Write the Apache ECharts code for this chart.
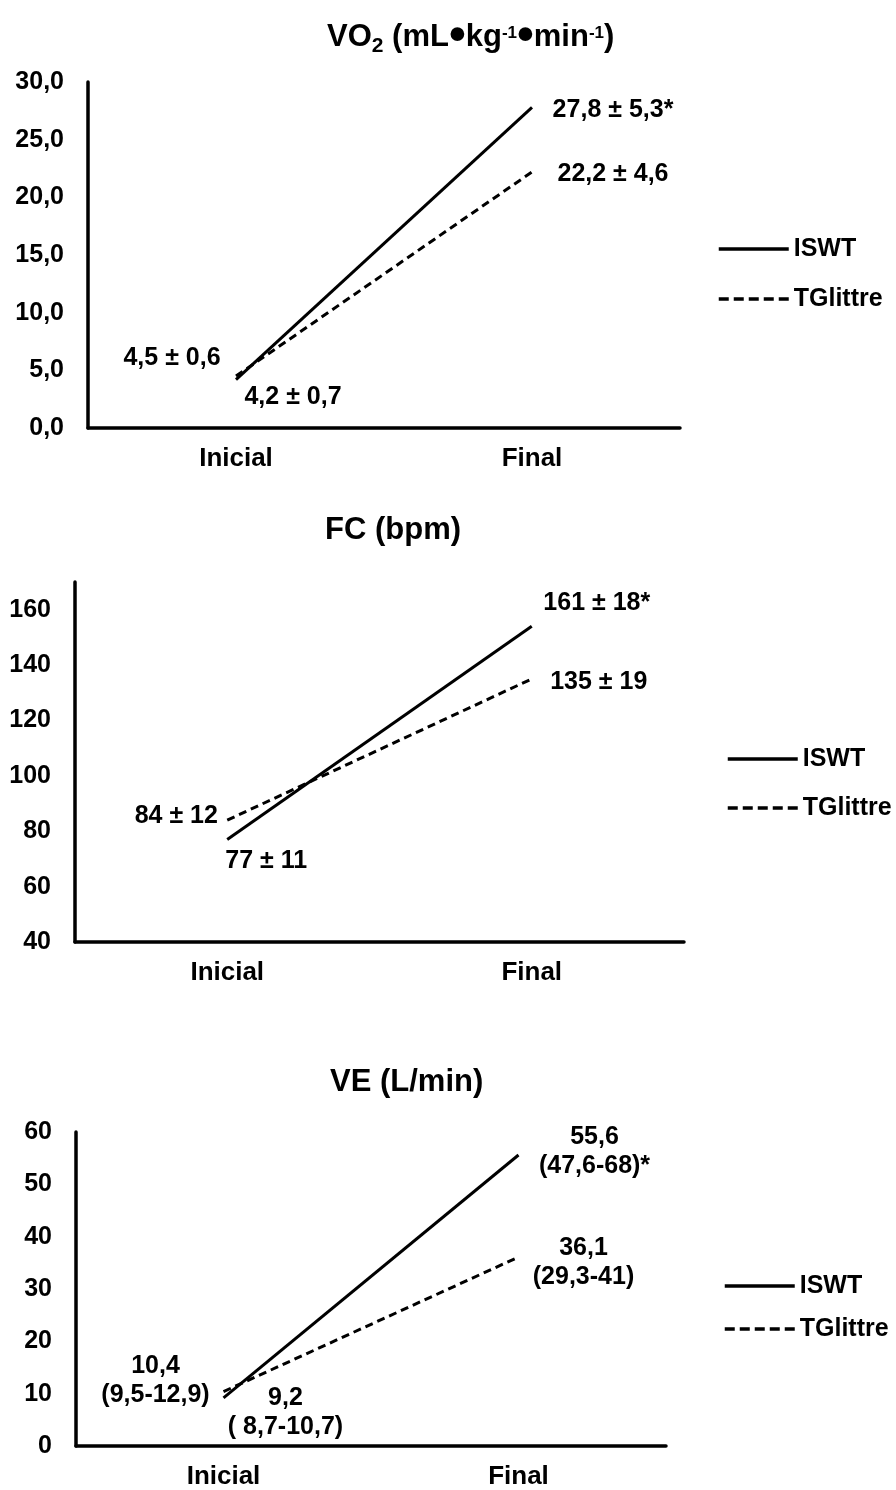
<!DOCTYPE html>
<html>
<head>
<meta charset="utf-8">
<script src="https://cdn.jsdelivr.net/npm/echarts@6/dist/echarts.min.js"></script>
<style>
  html, body { margin: 0; padding: 0; background: #fff; }
  #chart { width: 896px; height: 1490px; }
</style>
</head>
<body>
<div id="chart"></div>
<script>
// categories
var categories = ['Inicial', 'Final'];

// VO2 (mL.kg-1.min-1)
var vo2Iswt = [4.2, 27.8];
var vo2Tglittre = [4.5, 22.2];
var vo2IswtText = ['4,2 ± 0,7', '27,8 ± 5,3*'];
var vo2TglittreText = ['4,5 ± 0,6', '22,2 ± 4,6'];

// FC (bpm)
var fcIswt = [77, 154];
var fcTglittre = [84, 135];
var fcIswtText = ['77 ± 11', '161 ± 18*'];
var fcTglittreText = ['84 ± 12', '135 ± 19'];

// VE (L/min)
var veIswt = [9.2, 55.6];
var veTglittre = [10.4, 36.1];
var veIswtText = ['9,2\n( 8,7-10,7)', '55,6\n(47,6-68)*'];
var veTglittreText = ['10,4\n(9,5-12,9)', '36,1\n(29,3-41)'];

// y axes: [min, max, interval]
var vo2Axis = [0, 30, 5];
var fcAxis = [40, 170, 20];
var veAxis = [0, 60, 10];

var FONT = "'Liberation Sans', Arial, sans-serif";
var chart = echarts.init(document.getElementById('chart'));

function lineSeries(name, values, dashed, idx) {
	return {
		name: name,
		type: 'line',
		xAxisIndex: idx,
		yAxisIndex: idx,
		data: values,
		symbol: 'none',
		silent: true,
		lineStyle: { color: '#000', width: 3, type: dashed ? [8, 5] : 'solid' },
		itemStyle: { color: 'rgba(0,0,0,0)', borderWidth: 0 }
	};
}

function labelSeries(values, texts, offsets, idx) {
	var items = [];
	values.forEach(function (v, i) {
		items.push({ value: v, label: { formatter: texts[i], offset: offsets[i] } });
	});
	return {
		type: 'scatter',
		xAxisIndex: idx,
		yAxisIndex: idx,
		symbol: 'circle',
		symbolSize: 1,
		silent: true,
		itemStyle: { color: 'rgba(0,0,0,0)', opacity: 1 },
		label: {
			show: true,
			position: 'inside',
			align: 'center',
			color: '#000',
			textBorderWidth: 0,
			fontFamily: FONT,
			fontWeight: 'bold',
			fontSize: 25,
			lineHeight: 29
		},
		data: items
	};
}

function xAxis(idx) {
	return {
		type: 'category',
		gridIndex: idx,
		data: categories,
		axisTick: { show: false },
		axisLine: { lineStyle: { color: '#000', width: 3.5 } },
		axisLabel: { color: '#000', fontFamily: FONT, fontWeight: 'bold', fontSize: 26, margin: 18 }
	};
}

function yAxis(idx, ax, fmt) {
	return {
		type: 'value',
		gridIndex: idx,
		min: ax[0],
		max: ax[1],
		interval: ax[2],
		splitLine: { show: false },
		axisTick: { show: false },
		axisLine: { show: true, lineStyle: { color: '#000', width: 3.5 } },
		axisLabel: {
			color: '#000', fontFamily: FONT, fontWeight: 'bold', fontSize: 25, margin: 24,
			showMaxLabel: ax[1] % ax[2] === 0,
			formatter: fmt
		}
	};
}

function legend(left, top, gap) {
	return {
		data: [
			{ name: 'ISWT' },
			{ name: 'TGlittre', lineStyle: { type: [10, 5] } }
		],
		orient: 'vertical',
		left: left,
		top: top,
		padding: 0,
		itemWidth: 70,
		itemHeight: 26,
		itemGap: gap,
		selectedMode: false,
		itemStyle: { color: 'rgba(0,0,0,0)', borderColor: 'rgba(0,0,0,0)', borderWidth: 0, opacity: 0 },
		lineStyle: { color: '#000', width: 3.5 },
		textStyle: { color: '#000', fontFamily: FONT, fontWeight: 'bold', fontSize: 25, lineHeight: 26 }
	};
}

var titleStyle = { color: '#000', fontFamily: FONT, fontWeight: 'bold', fontSize: 31 };

var option = {
	animation: false,
	backgroundColor: '#fff',
	title: [
		{
			text: '{b|VO}{sub|2}{b| (mL}{dot|•}{b|kg}{sup|-1}{dot|•}{b|min}{sup|-1}{b|)}',
			left: 327, top: 13, padding: 0,
			textStyle: {
				rich: {
					b: titleStyle,
					dot: { color: '#000', fontFamily: FONT, fontWeight: 'bold', fontSize: 48 },
					sub: { color: '#000', fontFamily: FONT, fontWeight: 'bold', fontSize: 21, padding: [18, 0, 0, 0] },
					sup: { color: '#000', fontFamily: FONT, fontWeight: 'bold', fontSize: 17, padding: [0, 0, 7, 0] }
				}
			}
		},
		{ text: 'FC (bpm)', left: 325, top: 515, padding: 0, textStyle: titleStyle },
		{ text: 'VE (L/min)', left: 330, top: 1067, padding: 0, textStyle: titleStyle }
	],
	legend: [
		legend(717, 236, 24),
		legend(726, 746, 23),
		legend(723, 1273, 17)
	],
	grid: [
		{ left: 88, top: 82, width: 592, height: 346 },
		{ left: 75, top: 582, width: 609, height: 360 },
		{ left: 76, top: 1132, width: 590, height: 315 }
	],
	xAxis: [xAxis(0), xAxis(1), xAxis(2)],
	yAxis: [
		yAxis(0, vo2Axis, function (v) { return v.toFixed(1).replace('.', ','); }),
		yAxis(1, fcAxis, '{value}'),
		yAxis(2, veAxis, '{value}')
	],
	series: [
		lineSeries('ISWT', vo2Iswt, false, 0),
		lineSeries('TGlittre', vo2Tglittre, true, 0),
		labelSeries(vo2Iswt, vo2IswtText, [[57, 18], [81, 3]], 0),
		labelSeries(vo2Tglittre, vo2TglittreText, [[-64, -18], [81, 2]], 0),

		lineSeries('ISWT', fcIswt, false, 1),
		lineSeries('TGlittre', fcTglittre, true, 1),
		labelSeries(fcIswt, fcIswtText, [[39, 22], [65, -23]], 1),
		labelSeries(fcTglittre, fcTglittreText, [[-51, -4], [67, 3]], 1),

		lineSeries('ISWT', veIswt, false, 2),
		lineSeries('TGlittre', veTglittre, true, 2),
		labelSeries(veIswt, veIswtText, [[62, 15], [76, -3]], 2),
		labelSeries(veTglittre, veTglittreText, [[-68, -11], [65, 6]], 2)
	]
};

chart.setOption(option);
</script>
</body>
</html>
